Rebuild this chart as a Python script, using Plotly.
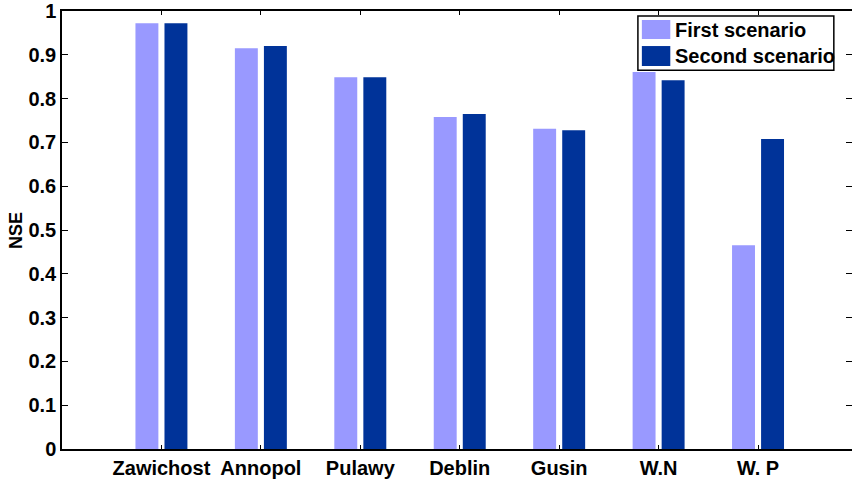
import plotly.graph_objects as go

categories = ["Zawichost", "Annopol", "Pulawy", "Deblin", "Gusin", "W.N", "W. P"]
first_scenario = [0.972, 0.915, 0.849, 0.758, 0.731, 0.861, 0.465]
second_scenario = [0.972, 0.920, 0.849, 0.765, 0.728, 0.842, 0.708]
y_ticks = [0, 0.1, 0.2, 0.3, 0.4, 0.5, 0.6, 0.7, 0.8, 0.9, 1]
y_tick_text = ["0", "0.1", "0.2", "0.3", "0.4", "0.5", "0.6", "0.7", "0.8", "0.9", "1"]
series_names = ["First scenario", "Second scenario"]
colors = ["#9999FF", "#003399"]

FONT = "Liberation Sans, Arial, sans-serif"

fig = go.Figure()
fig.add_trace(go.Bar(x=categories, y=first_scenario, name=series_names[0],
                     marker=dict(color=colors[0], line=dict(width=0)), showlegend=False))
fig.add_trace(go.Bar(x=categories, y=second_scenario, name=series_names[1],
                     marker=dict(color=colors[1], line=dict(width=0)), showlegend=False))
# invisible trace to carry right-side ticks
fig.add_trace(go.Scatter(x=[categories[0]], y=[0], yaxis="y2", mode="markers",
                         marker=dict(opacity=0), showlegend=False, hoverinfo="skip"))

fig.update_layout(
    width=852, height=479,
    margin=dict(l=62, r=0, t=11, b=30, pad=0),
    paper_bgcolor="white", plot_bgcolor="white",
    barmode="group", bargap=0.416, bargroupgap=0.21,
    font=dict(family=FONT, size=20, color="black"),
    xaxis=dict(
        type="category", range=[-1, 6.945],
        showline=True, linecolor="black", linewidth=1.5, mirror="ticks",
        ticks="inside", ticklen=4, tickwidth=1, tickcolor="black",
        showgrid=False, zeroline=False,
        tickfont=dict(family=FONT, size=20, color="black", weight="bold"),
    ),
    yaxis=dict(
        range=[0, 1], tickvals=y_ticks, ticktext=y_tick_text,
        showline=True, linecolor="black", linewidth=1.5, mirror=False,
        ticks="inside", ticklen=6, tickwidth=1, tickcolor="black",
        showgrid=False, zeroline=False,
        tickfont=dict(family=FONT, size=20, color="black", weight="bold"),
    ),
    yaxis2=dict(
        range=[0, 1], tickvals=y_ticks, overlaying="y", side="right",
        showline=False, ticks="inside", ticklen=6, tickwidth=1, tickcolor="black",
        showticklabels=False, showgrid=False, zeroline=False,
    ),
)

# y-axis title
fig.add_annotation(text="<b>NSE</b>", xref="paper", yref="paper", x=-0.058, y=0.498,
                   xanchor="center", yanchor="middle", textangle=-90, showarrow=False,
                   font=dict(family=FONT, size=18, color="black"))

# custom legend
fig.add_shape(type="rect", xref="paper", yref="paper", x0=0.729, x1=0.977, y0=0.865, y1=0.9886,
              line=dict(color="black", width=1.5), fillcolor="white", layer="above")
swatches = [(0.936, 0.9795), (0.8744, 0.920)]
text_y = [0.9566, 0.897]
for i in range(2):
    fig.add_shape(type="rect", xref="paper", yref="paper", x0=0.734, x1=0.770,
                  y0=swatches[i][0], y1=swatches[i][1],
                  line=dict(width=0), fillcolor=colors[i], layer="above")
    fig.add_annotation(text="<b>" + series_names[i] + "</b>", xref="paper", yref="paper",
                       x=0.773, y=text_y[i], xanchor="left", yanchor="middle", showarrow=False,
                       font=dict(family=FONT, size=20, color="black"))

fig.write_html("out.html", config={"displayModeBar": False},
               post_script="document.body.style.margin='0';document.body.style.overflow='hidden';")
